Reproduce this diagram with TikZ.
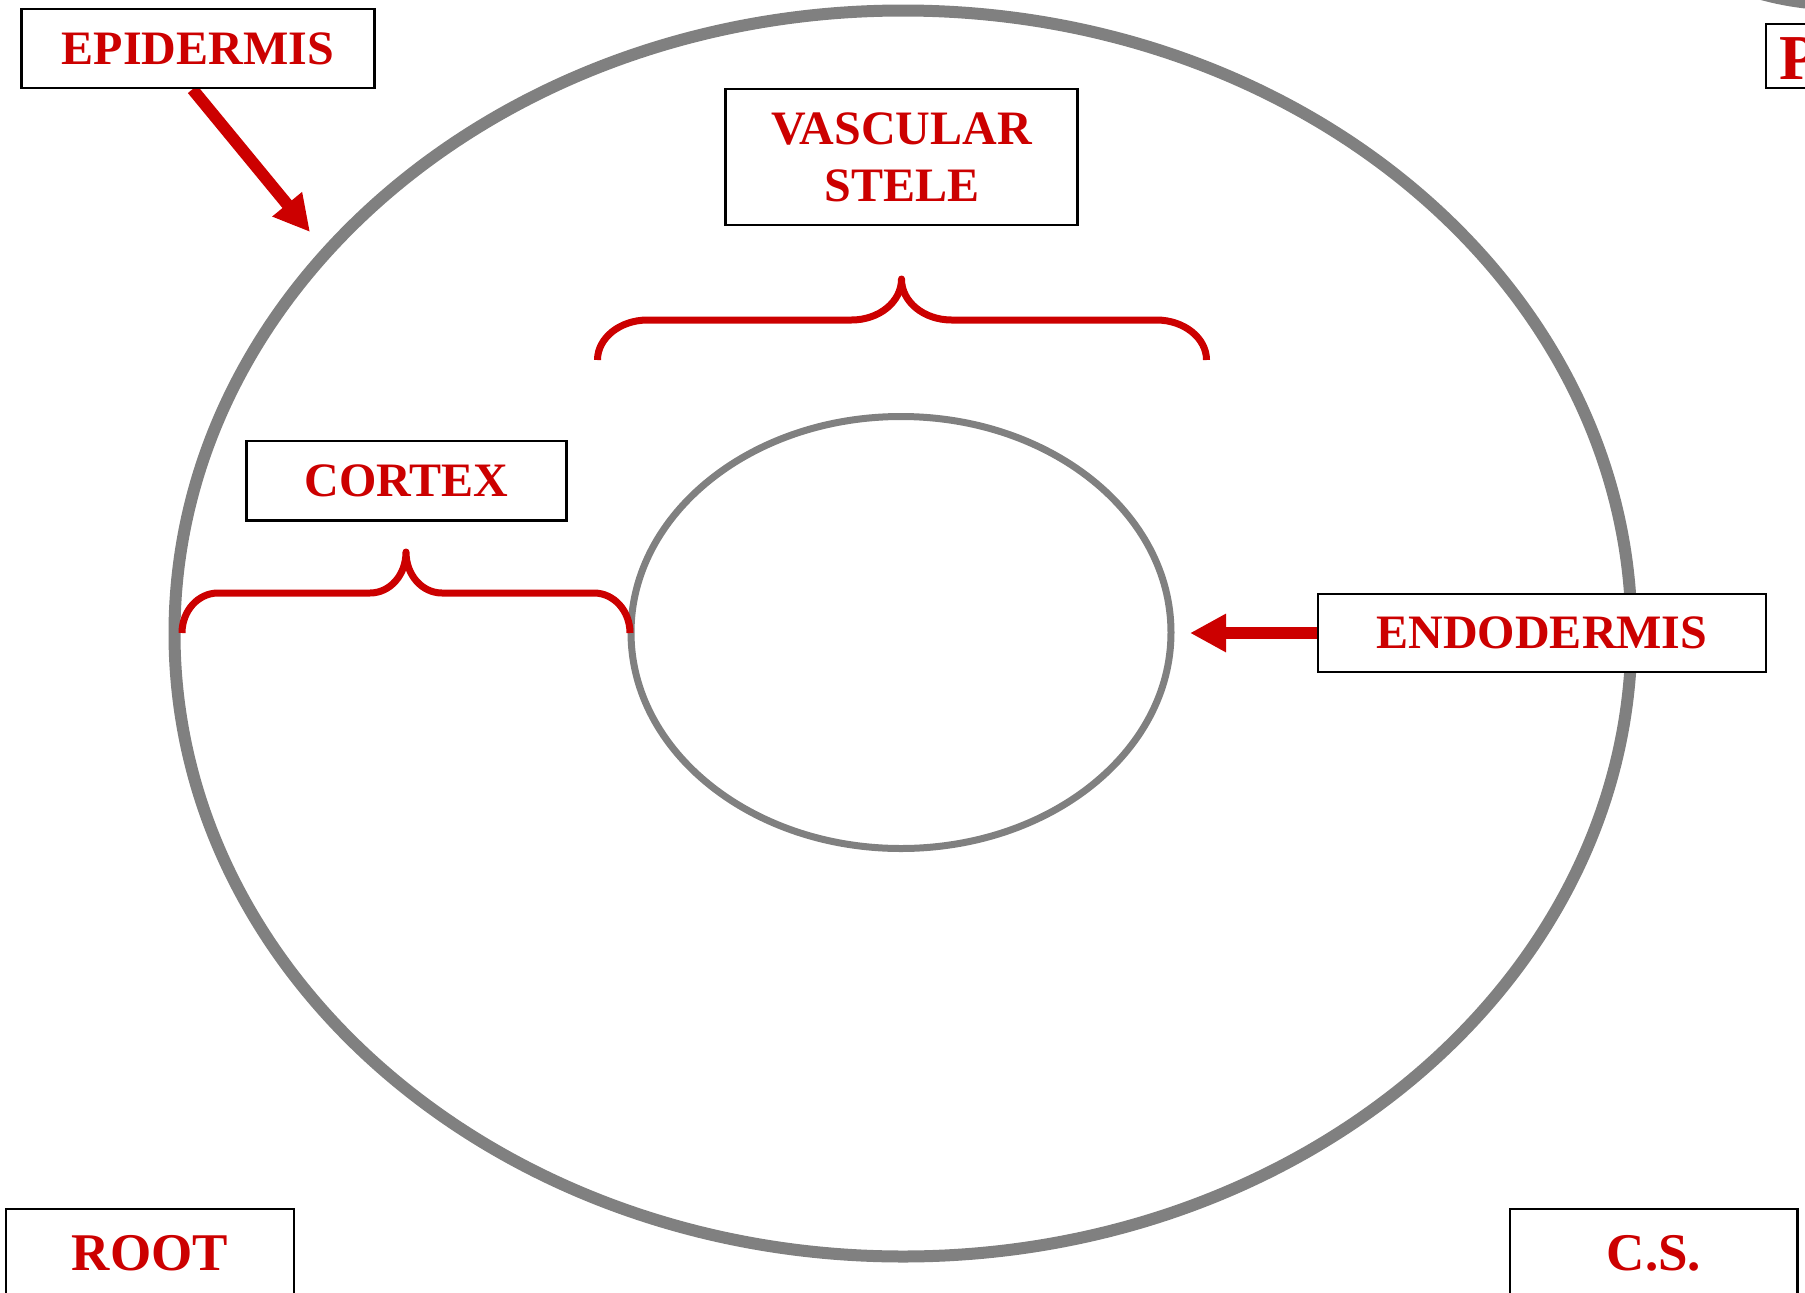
\documentclass[tikz,border=0pt]{standalone}
\usepackage{fontspec}
\setmainfont{Liberation Serif}
\usetikzlibrary{arrows.meta,calc}
\definecolor{lblred}{HTML}{CC0000}
\definecolor{ringgray}{HTML}{808080}
\pgfdeclarelayer{rings}
\pgfdeclarelayer{pointers}
\pgfsetlayers{rings,pointers,main}
\begin{document}
\begin{tikzpicture}[x=1pt,y=-1pt,
  lbl/.style={text=lblred, font=\bfseries\fontsize{48}{57}\selectfont, inner sep=0pt},
  bigl/.style={text=lblred, font=\bfseries\fontsize{53}{60}\selectfont, inner sep=0pt},
  boxed/.style={lbl, draw=black, line width=2.5pt, fill=white, align=center},
  frame/.style={draw=black, line width=2.5pt, fill=white},
  ring/.style={draw=ringgray},
  brace/.style={draw=lblred, line width=7pt, line join=round, line cap=butt},
  ptr/.style={draw=lblred, line width=12pt, -{Triangle[length=36pt,width=36pt]}}
]
\useasboundingbox (0,0) rectangle (1805,1293);

% rings
\begin{pgfonlayer}{rings}
  \begin{scope}
    \clip (0,0) rectangle (1805,1293);
    \draw[ring, line width=12pt] (903,633.5) ellipse [x radius=728.5, y radius=623];
    \draw[ring, line width=7pt] (901,632.5) ellipse [x radius=270, y radius=216];
    \draw[ring, line width=11pt] (1840,-292) circle [radius=297];
  \end{scope}
\end{pgfonlayer}

% labelled boxes
\node[boxed, minimum width=352.6pt, minimum height=79pt] (epi) at (198,48.5) {EPIDERMIS};
\node[boxed, minimum width=352pt, minimum height=136pt] (vasc) at (901.7,157) {VASCULAR\\STELE};
\node[boxed, minimum width=320pt, minimum height=79.4pt] (cortex) at (406.4,480.7) {CORTEX};
\node[boxed, minimum width=448pt, minimum height=78pt] (endo) at (1542,633) {ENDODERMIS};

% boxes cut by the page edge
\draw[frame] (6,1209) rectangle (294,1330);
\node[bigl, anchor=base] (root) at (150,1270.7) {ROOT};
\draw[frame] (1510,1209) rectangle (1797.3,1330);
\node[bigl, anchor=base] (cs) at (1654,1270.7) {C.S.};
\draw[frame] (1766,24) rectangle (1840,88);
\node[text=lblred, font=\bfseries\fontsize{64}{70}\selectfont, inner sep=0pt, anchor=base west] (p) at (1779,79) {P};

% pointers
\coordinate (epitip) at (310,232);
\coordinate (endotip) at (1190,633);
\begin{pgfonlayer}{pointers}
  \draw[ptr] ($(epi.south)+(-5.5,0)$) -- (epitip);
  \draw[ptr] (endo.west) -- (endotip);
\end{pgfonlayer}

% braces
\draw[brace] (182,633) .. controls (182,611) and (198,593) .. (218,593)
  -- (370,593) .. controls (390,593) and (406,575) .. (406,552)
  .. controls (406,575) and (422,593) .. (442,593)
  -- (594,593) .. controls (614,593) and (630,611) .. (630,633);
\draw[brace] (597.5,360) .. controls (597.5,338) and (620,320) .. (647.5,320)
  -- (851.5,320) .. controls (879,320) and (901.5,302) .. (901.5,279)
  .. controls (901.5,302) and (924,320) .. (951.5,320)
  -- (1156.5,320) .. controls (1184,320) and (1206.5,338) .. (1206.5,360);
\end{tikzpicture}
\end{document}
